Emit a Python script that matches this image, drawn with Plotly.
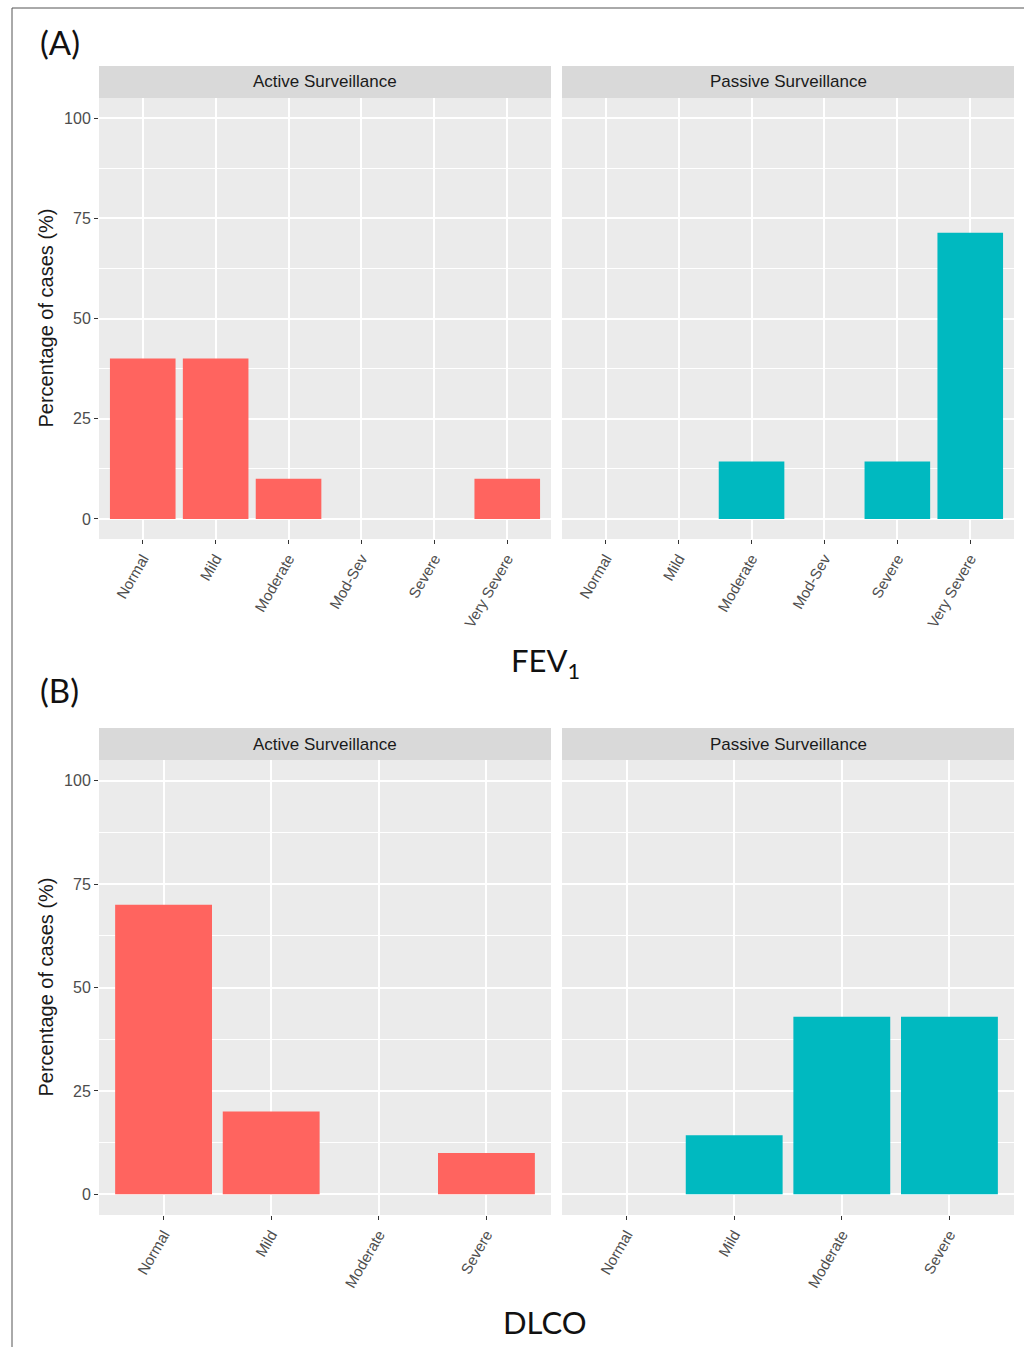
import plotly.graph_objects as go

# ---------------- data ----------------
fev_categories = ["Normal", "Mild", "Moderate", "Mod-Sev", "Severe", "Very Severe"]
fev_active = [40, 40, 10, 0, 0, 10]
fev_passive = [0, 0, 14.3, 0, 14.3, 71.4]

dlco_categories = ["Normal", "Mild", "Moderate", "Severe"]
dlco_active = [70, 20, 0, 10]
dlco_passive = [0, 14.3, 42.9, 42.9]

facet_labels = ["Active Surveillance", "Passive Surveillance"]
y_ticks = [0, 25, 50, 75, 100]
y_title = "Percentage of cases (%)"

W, H = 1024, 1347
RED = "#FF645F"
TEAL = "#00B9C0"


def px(x):
    return x / W


def py(y):
    return 1 - y / H


fig = go.Figure()

# panel geometry in pixels
left_dom = (99, 551)
right_dom = (562, 1014)
A_y = (98, 539)
B_y = (760, 1215)
A_strip = (66, 98)
B_strip = (728, 760)

panels = [
    ("x", "y", fev_categories, fev_active, RED, left_dom, A_y),
    ("x2", "y2", fev_categories, fev_passive, TEAL, right_dom, A_y),
    ("x3", "y3", dlco_categories, dlco_active, RED, left_dom, B_y),
    ("x4", "y4", dlco_categories, dlco_passive, TEAL, right_dom, B_y),
]

SANS = "Liberation Sans, Arial, sans-serif"
tickfont = dict(family=SANS, size=15, color="#4d4d4d")

for i, (xa, ya, cats, vals, col, xd, yd) in enumerate(panels):
    fig.add_trace(go.Bar(
        x=cats, y=vals, xaxis=xa, yaxis=ya,
        marker=dict(color=col, line=dict(width=0)),
        width=0.9, showlegend=False, hoverinfo="x+y",
    ))
    n = len(cats)
    suffix = "" if i == 0 else str(i + 1)
    fig.layout["xaxis" + suffix] = dict(
        domain=[px(xd[0]), px(xd[1])],
        anchor=ya,
        type="category",
        categoryorder="array", categoryarray=cats,
        range=[-0.6, n - 1 + 0.6],
        showgrid=True, gridcolor="white", gridwidth=1.5,
        ticks="outside", ticklen=4, tickwidth=1, tickcolor="#333333",
        tickangle=-60, tickfont=tickfont,
        showline=False, zeroline=False, fixedrange=True,
    )
    fig.layout["yaxis" + suffix] = dict(
        domain=[py(yd[1]), py(yd[0])],
        anchor=xa,
        range=[-5, 105],
        tickvals=y_ticks,
        showgrid=True, gridcolor="white", gridwidth=1.5,
        minor=dict(dtick=12.5, tick0=0, showgrid=True, gridcolor="white", gridwidth=0.7),
        ticks="outside" if xd == left_dom else "",
        ticklen=4, tickwidth=1, tickcolor="#333333",
        showticklabels=(xd == left_dom),
        tickfont=dict(family=SANS, size=16, color="#4d4d4d"),
        zeroline=False, showline=False, fixedrange=True,
    )

shapes = []
annotations = []

# figure border
shapes.append(dict(type="rect", xref="paper", yref="paper",
                   x0=px(12), x1=px(1030), y0=py(1360), y1=py(8),
                   line=dict(color="#555555", width=1), fillcolor="rgba(0,0,0,0)"))

# strips
for (s0, s1) in (A_strip, B_strip):
    for k, dom in enumerate((left_dom, right_dom)):
        shapes.append(dict(type="rect", xref="paper", yref="paper",
                           x0=px(dom[0]), x1=px(dom[1]), y0=py(s1), y1=py(s0),
                           fillcolor="#d9d9d9", line=dict(width=0), layer="below"))
        annotations.append(dict(xref="paper", yref="paper",
                                x=px((dom[0] + dom[1]) / 2), y=py((s0 + s1) / 2),
                                text=facet_labels[k], showarrow=False,
                                xanchor="center", yanchor="middle",
                                font=dict(family=SANS, size=17, color="#1a1a1a")))

big_font = dict(family="Lato, Open Sans, sans-serif", size=33, color="#111111")
title_font = dict(family="Lato, Open Sans, sans-serif", size=31, color="#111111")

# panel letters
annotations.append(dict(xref="paper", yref="paper", x=px(60), y=py(42), text="(A)",
                        showarrow=False, xanchor="center", yanchor="middle", font=big_font))
annotations.append(dict(xref="paper", yref="paper", x=px(59), y=py(690), text="(B)",
                        showarrow=False, xanchor="center", yanchor="middle", font=big_font))

# x titles
annotations.append(dict(xref="paper", yref="paper", x=px(545), y=py(662),
                        text="FEV<sub>1</sub>", showarrow=False,
                        xanchor="center", yanchor="middle", font=title_font))
annotations.append(dict(xref="paper", yref="paper", x=px(545), y=py(1322),
                        text="DLCO", showarrow=False,
                        xanchor="center", yanchor="middle", font=title_font))

# y titles
for yd in (A_y, B_y):
    annotations.append(dict(xref="paper", yref="paper", x=px(45), y=py((yd[0] + yd[1]) / 2),
                            text=y_title, showarrow=False, textangle=-90,
                            xanchor="center", yanchor="middle",
                            font=dict(family=SANS, size=20, color="#1a1a1a")))

fig.update_layout(
    width=W, height=H,
    margin=dict(l=0, r=0, t=0, b=0),
    paper_bgcolor="white",
    plot_bgcolor="#ebebeb",
    bargap=0.1,
    shapes=shapes,
    annotations=annotations,
    showlegend=False,
)

fig.write_html("out.html",
               config={"displayModeBar": False},
               post_script="document.body.style.margin='0';document.body.style.padding='0';")
